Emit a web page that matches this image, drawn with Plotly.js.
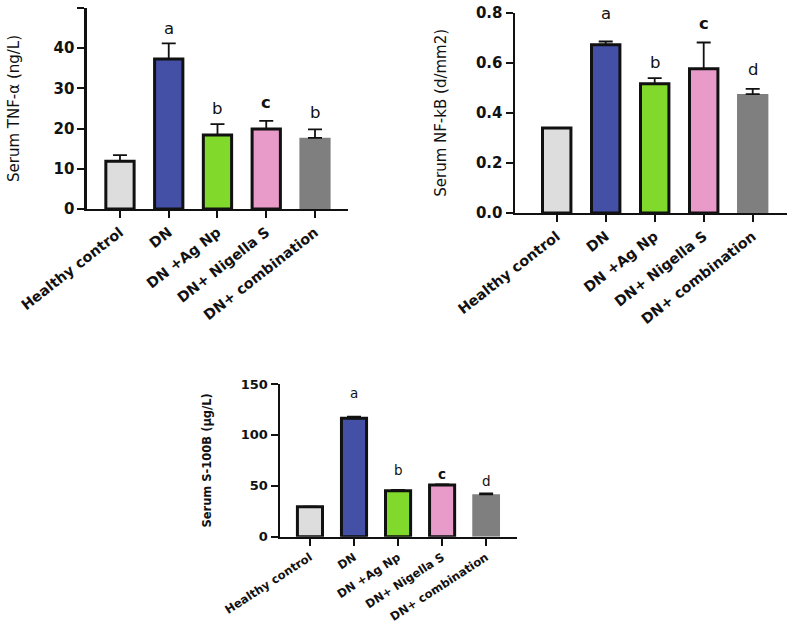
<!DOCTYPE html>
<html>
<head>
<meta charset="utf-8">
<script src="https://cdn.plot.ly/plotly-3.0.1.min.js"></script>
<style>html,body{margin:0;padding:0;background:#fff;}#chart{width:787px;height:624px;}</style>
</head>
<body>
<div id="chart"></div>
<script>
// ---- data ----
var categories = ["Healthy control", "DN", "DN +Ag Np", "DN+ Nigella S", "DN+ combination"];
var barColors = ["#dcdddc", "#4350a6", "#80d92b", "#e89bc9", "#7f7f7f"];

var tnfValues = [11.9, 37.3, 18.4, 19.9, 17.7];
var tnfErrors = [1.5, 3.9, 2.7, 2.0, 2.1];
var tnfLetters = ["", "a", "b", "c", "b"];
var tnfLetterY = [0, 45.0, 24.9, 26.4, 23.9];

var nfkbValues = [0.339, 0.672, 0.516, 0.576, 0.475];
var nfkbErrors = [0, 0.013, 0.023, 0.105, 0.021];
var nfkbLetters = ["", "a", "b", "c", "d"];
var nfkbLetterY = [0, 0.796, 0.601, 0.755, 0.572];

var s100Values = [29.5, 116.3, 45.2, 50.8, 41.6];
var s100Errors = [0, 1.6, 0.8, 0.7, 0.9];
var s100Letters = ["", "a", "b", "c", "d"];
var s100LetterY = [0, 141.5, 65.5, 61.6, 54.7];

var yTickVals1 = [0, 10, 20, 30, 40, 50];
var yTickVals2 = [0, 0.2, 0.4, 0.6, 0.8];
var yTickText2 = ["0.0", "0.2", "0.4", "0.6", "0.8"];
var yTickVals3 = [0, 50, 100, 150];

// ---- traces ----
function barTrace(vals, errs, xa, ya, w) {
  return {
    type: "bar", x: categories, y: vals, xaxis: xa, yaxis: ya,
    width: [w, w, w, w, w + 0.06],
    marker: { color: barColors, line: { color: "#111111", width: [3, 3, 3, 3, 0] } },
    error_y: { type: "data", array: errs, arrayminus: errs.map(function(){return 0;}), symmetric: false,
               color: "#111111", thickness: 1.8, width: 7, visible: true },
    hoverinfo: "x+y", showlegend: false
  };
}
var traces = [
  barTrace(tnfValues, tnfErrors, "x", "y", 0.58),
  barTrace(nfkbValues, nfkbErrors, "x2", "y2", 0.58),
  barTrace(s100Values, s100Errors, "x3", "y3", 0.57)
];

// ---- annotations (significance letters) ----
var annotations = [];
function addLetters(letters, ys, xref, yref, size) {
  letters.forEach(function(l, i) {
    if (!l) return;
    var bold = (l === "c");
    annotations.push({
      x: categories[i], y: ys[i], xref: xref, yref: yref, text: bold ? "<b>" + l + "</b>" : l,
      showarrow: false, xanchor: "center", yanchor: "middle",
      font: { family: "DejaVu Sans", size: size, color: "#111111" }
    });
  });
}
addLetters(tnfLetters, tnfLetterY, "x", "y", 16.5);
addLetters(nfkbLetters, nfkbLetterY, "x2", "y2", 16.5);
addLetters(s100Letters, s100LetterY, "x3", "y3", 13.5);

function xAxis(domain, range, anchor, angle, size) {
  return {
    domain: domain, range: range, anchor: anchor, type: "category",
    showline: true, linecolor: "#111111", linewidth: 2.5, mirror: false,
    ticks: "outside", ticklen: 7, tickwidth: 2, tickcolor: "#111111",
    showgrid: false, zeroline: false, tickangle: angle, automargin: false,
    tickfont: { family: "DejaVu Sans", size: size, color: "#111111", weight: "bold" }
  };
}
function yAxis(domain, range, anchor, tv, tt, title, tsize, lsize, standoff, tbold) {
  return {
    domain: domain, range: range, anchor: anchor,
    showline: true, linecolor: "#111111", linewidth: 2.5,
    ticks: "outside", ticklen: 7, tickwidth: 2, tickcolor: "#111111",
    tickvals: tv, ticktext: tt, showgrid: false, zeroline: false, automargin: false,
    tickfont: { family: "DejaVu Sans", size: lsize, color: "#111111", weight: "bold" },
    title: { text: title, standoff: standoff,
             font: { family: "DejaVu Sans", size: tsize, color: "#111111", weight: tbold ? "bold" : "normal" } }
  };
}

var layout = {
  width: 787, height: 624,
  margin: { l: 0, r: 0, t: 0, b: 0 },
  paper_bgcolor: "#ffffff", plot_bgcolor: "#ffffff",
  bargap: 0.3,
  xaxis: xAxis([0.1105, 0.4422], [-0.677, 4.677], "y", -38, 14.3),
  yaxis: yAxis([0.6651, 0.9872], [0, 50], "x", yTickVals1, yTickVals1.map(String), "Serum TNF-α (ng/L)", 15, 15, 31, false),
  xaxis2: xAxis([0.6544, 1.0], [-0.851, 4.70], "y2", -38, 14.3),
  yaxis2: yAxis([0.6587, 0.9796], [0, 0.8], "x2", yTickVals2, yTickText2, "Serum NF-kB (d/mm2)", 15, 15, 26, false),
  xaxis3: xAxis([0.3558, 0.6569], [-0.68, 4.70], "y3", -33, 11.6),
  yaxis3: yAxis([0.1399, 0.3846], [0, 150], "x3", yTickVals3, yTickVals3.map(String), "Serum S-100B (µg/L)", 11.5, 13, 27, true),
  annotations: annotations,
  font: { family: "DejaVu Sans", color: "#111111" }
};

Plotly.newPlot("chart", traces, layout, { displayModeBar: false, staticPlot: true });
</script>
</body>
</html>
